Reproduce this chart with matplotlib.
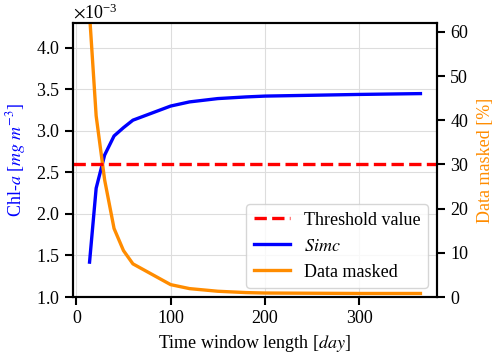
import matplotlib
matplotlib.use("Agg")
import matplotlib.pyplot as plt
import numpy as np

# Data
window_days = [14, 21, 30, 40, 50, 60, 100, 120, 150, 180, 200, 250, 300, 365]
simc = [1.42, 2.31, 2.71, 2.94, 3.04, 3.13, 3.30, 3.35, 3.39, 3.41, 3.42, 3.43, 3.44, 3.45]  # x1e-3 mg m^-3
masked = [64.0, 41.0, 26.5, 15.5, 10.5, 7.5, 2.8, 1.9, 1.3, 1.0, 0.9, 0.85, 0.8, 0.8]  # %
threshold_pct = 30.0

plt.rcParams['font.family'] = ['Liberation Serif', 'DejaVu Serif']
plt.rcParams['mathtext.fontset'] = 'stix'
FS = 13

fig = plt.figure(figsize=(4.98, 3.6), dpi=100)
ax1 = fig.add_axes([0.1466, 0.175, 0.7309, 0.761])
ax2 = ax1.twinx()

simc_arr = np.array(simc) * 1e-3
l_simc, = ax1.plot(window_days, simc_arr, color='#0000ff', lw=2.4, label='$Simc$')
l_mask, = ax2.plot(window_days, masked, color='#ff8c00', lw=2.4, label='Data masked')
l_thr = ax2.axhline(threshold_pct, color='#ff0000', lw=2.4, ls='--', label='Threshold value')

ax1.set_ylim(1.0e-3, 4.3e-3)
ax1.set_yticks(np.arange(1.0, 4.01, 0.5) * 1e-3)
ax1.ticklabel_format(axis='y', style='sci', scilimits=(0, 0), useMathText=True)
ax1.yaxis.get_offset_text().set_fontsize(FS)
ax2.set_ylim(0, 62)
ax2.set_yticks(np.arange(0, 61, 10))
ax1.set_xticks([0, 100, 200, 300])

ax1.grid(True, color='#dddddd', lw=0.8)
ax1.set_axisbelow(True)

for ax in (ax1, ax2):
    for s in ax.spines.values():
        s.set_linewidth(1.5)
    ax.tick_params(width=1.5, length=6, labelsize=FS)

ax1.set_xlabel('Time window length [$day$]', fontsize=FS)
ax1.set_ylabel('Chl-$a$ [$mg\\ m^{-3}$]', color='#0000ff', fontsize=FS, labelpad=6)
ax2.set_ylabel('Data masked [%]', color='#ff8c00', fontsize=FS, labelpad=6)

ax2.legend(handles=[l_thr, l_simc, l_mask], loc='lower right',
           fontsize=FS, framealpha=0.8)

fig.savefig('out.png', dpi=100)
